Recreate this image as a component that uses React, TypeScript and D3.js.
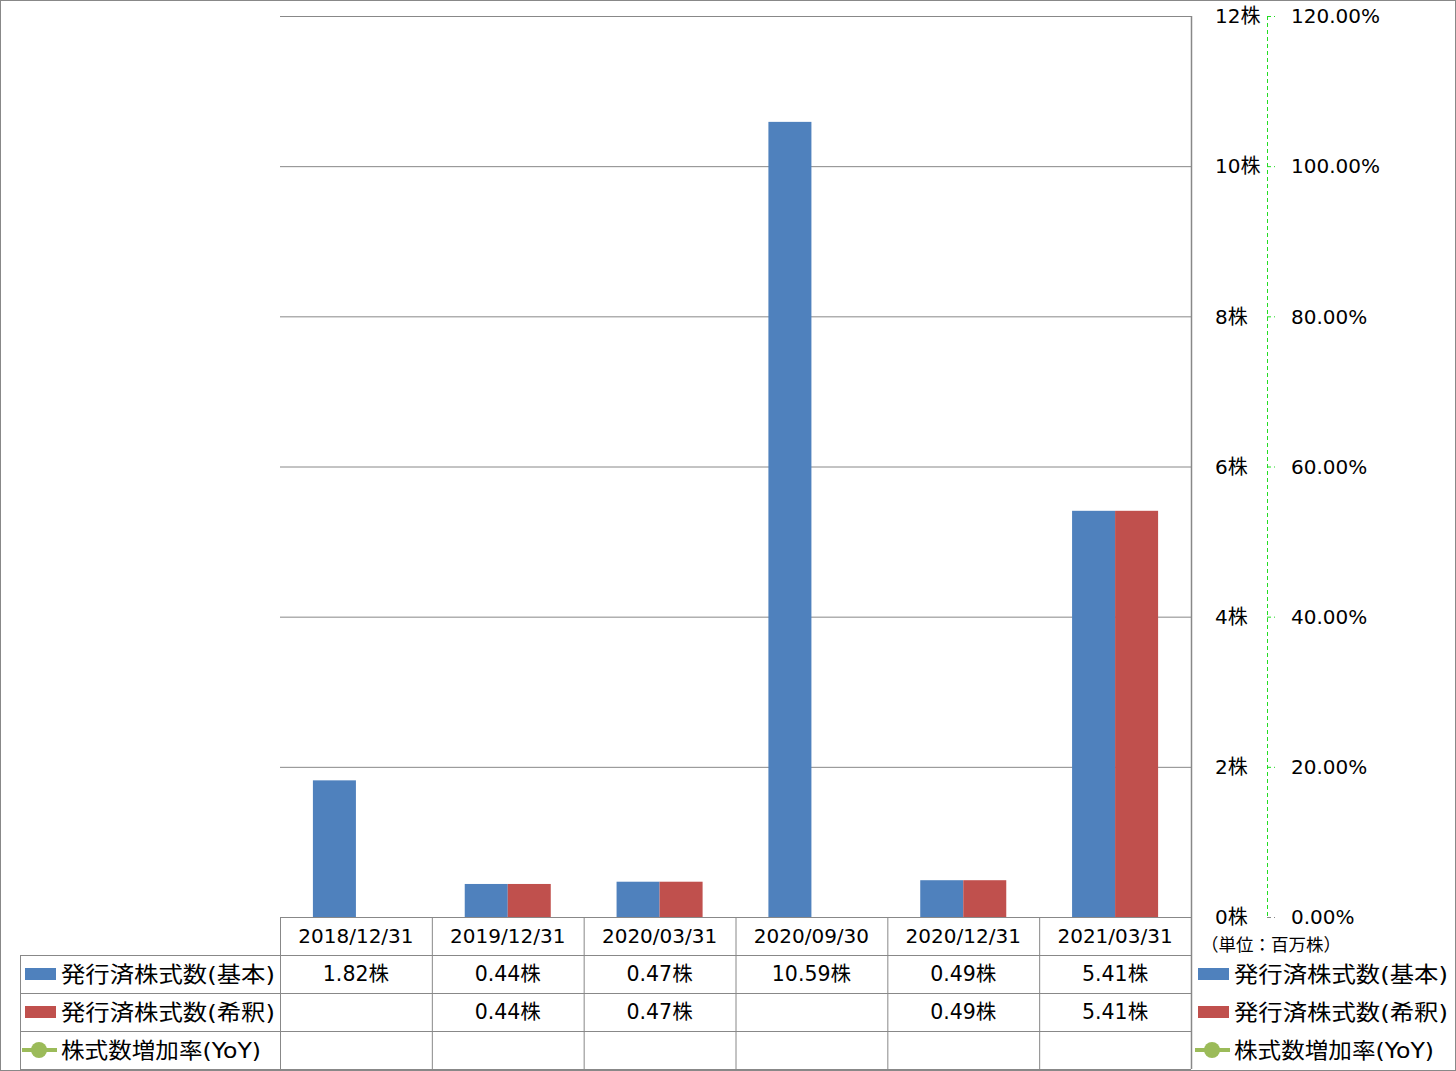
import React from "react";
import * as d3 from "d3";

const categories = ["2018/12/31", "2019/12/31", "2020/03/31", "2020/09/30", "2020/12/31", "2021/03/31"];
const basicShares: (number | null)[] = [1.82, 0.44, 0.47, 10.59, 0.49, 5.41];
const dilutedShares: (number | null)[] = [null, 0.44, 0.47, null, 0.49, 5.41];
const yoyGrowth: (number | null)[] = [null, null, null, null, null, null];
const leftTicks = [0, 2, 4, 6, 8, 10, 12];
const rightTicks = [0, 0.2, 0.4, 0.6, 0.8, 1.0, 1.2];
const seriesNames = ["発行済株式数(基本)", "発行済株式数(希釈)", "株式数増加率(YoY)"];
const unitLabel = "（単位：百万株）";

const BLUE = "#4F81BD";
const RED = "#C0504D";
const GREEN = "#9BBB59";
const GRID = "#888888";
const FONT = "'DejaVu Sans', 'Noto Sans CJK JP', sans-serif";

export default function App() {
  const W = 1456, H = 1071;
  const plotL = 280, plotR = 1191, plotT = 16, plotB = 917;
  const x = d3.scaleBand<string>().domain(categories).range([plotL, plotR]).paddingInner(0).paddingOuter(0);
  const inner = d3.scaleBand<string>().domain(["b", "d"]).range([0, x.bandwidth()]).paddingOuter(0.765).paddingInner(0);
  const y = d3.scaleLinear().domain([0, 12]).range([plotB, plotT]);
  const y2 = d3.scaleLinear().domain([0, 1.2]).range([plotB, plotT]);
  const axisX = 1267;
  const rowH = 38;
  const rowTops = [917, 955, 993, 1031];
  const tableBottom = 1069;
  const fmt = (v: number | null) => (v == null ? "" : `${v.toFixed(2)}株`);
  const rows = [basicShares, dilutedShares, yoyGrowth];
  const colEdges = categories.map((c) => x(c) as number).concat([plotR]);
  const legendLens = [214, 214, 200];

  const swatch = (i: number, sx: number, cy: number) => {
    if (i === 0) return <rect x={sx} y={cy - 6} width={31} height={12} fill={BLUE} />;
    if (i === 1) return <rect x={sx} y={cy - 6} width={31} height={12} fill={RED} />;
    return (
      <g>
        <line x1={sx - 3} x2={sx + 32} y1={cy} y2={cy} stroke={GREEN} strokeWidth={4} />
        <circle cx={sx + 14} cy={cy} r={8} fill={GREEN} />
      </g>
    );
  };

  return (
    <div style={{ position: "absolute", left: 0, top: 0 }}>
      <svg width={W} height={H} style={{ display: "block", fontFamily: FONT }}>
        <rect x={0.5} y={0.5} width={W - 1} height={H - 1} fill="#fff" stroke={GRID} />
        {leftTicks.map((t) => (
          <line key={t} x1={plotL} x2={plotR} y1={y(t) + 0.5} y2={y(t) + 0.5} stroke={GRID} strokeWidth={1} />
        ))}
        {categories.map((c, i) => (
          <g key={c}>
            {basicShares[i] != null && (
              <rect x={(x(c) as number) + (inner("b") as number)} y={y(basicShares[i] as number)} width={inner.bandwidth()} height={plotB - y(basicShares[i] as number)} fill={BLUE} />
            )}
            {dilutedShares[i] != null && (
              <rect x={(x(c) as number) + (inner("d") as number)} y={y(dilutedShares[i] as number)} width={inner.bandwidth()} height={plotB - y(dilutedShares[i] as number)} fill={RED} />
            )}
          </g>
        ))}
        <line x1={plotR + 0.5} x2={plotR + 0.5} y1={plotT} y2={tableBottom} stroke={GRID} strokeWidth={1.5} />
        <line x1={axisX + 0.5} x2={axisX + 0.5} y1={plotT} y2={plotB} stroke="#22dd22" strokeDasharray="4,3" strokeWidth={1} />
        {rightTicks.map((t, i) => (
          <line key={i} x1={axisX} x2={axisX + 8} y1={y2(t) + 0.5} y2={y2(t) + 0.5} stroke={i === 0 ? GRID : "#22dd22"} strokeDasharray="4,3" />
        ))}
        {leftTicks.map((t) => (
          <text key={t} x={1215} y={y(t)} dy="0.36em" fontSize={20} fill="#000">{`${t}株`}</text>
        ))}
        {rightTicks.map((t, i) => (
          <text key={i} x={1291} y={y2(t)} dy="0.36em" fontSize={20} fill="#000">{`${(t * 100).toFixed(2)}%`}</text>
        ))}
        <line x1={plotL} x2={plotR} y1={plotB + 0.5} y2={plotB + 0.5} stroke={GRID} />
        {rowTops.slice(1).map((ry) => (
          <line key={ry} x1={20} x2={plotR} y1={ry + 0.5} y2={ry + 0.5} stroke={GRID} />
        ))}
        <line x1={20} x2={plotR} y1={tableBottom + 0.5} y2={tableBottom + 0.5} stroke={GRID} />
        <line x1={20.5} x2={20.5} y1={rowTops[1]} y2={tableBottom} stroke={GRID} />
        {colEdges.slice(0, -1).map((cx, i) => (
          <line key={i} x1={cx + 0.5} x2={cx + 0.5} y1={plotB} y2={tableBottom} stroke={GRID} />
        ))}
        {categories.map((c) => (
          <text key={c} x={(x(c) as number) + x.bandwidth() / 2} y={rowTops[0] + rowH / 2} dy="0.36em" textAnchor="middle" fontSize={20}>{c}</text>
        ))}
        {rows.map((r, ri) => (
          <g key={ri}>
            {swatch(ri, 25, rowTops[ri + 1] + rowH / 2)}
            <text x={61} y={rowTops[ri + 1] + rowH / 2} dy="0.36em" fontSize={22} textLength={legendLens[ri]} lengthAdjust="spacingAndGlyphs">{seriesNames[ri]}</text>
            {categories.map((c, ci) => (
              <text key={c} x={(x(c) as number) + x.bandwidth() / 2} y={rowTops[ri + 1] + rowH / 2} dy="0.36em" textAnchor="middle" fontSize={20.5}>{fmt(r[ci])}</text>
            ))}
          </g>
        ))}
        <text x={1201} y={945} dy="0.36em" fontSize={17.5}>{unitLabel}</text>
        {seriesNames.map((n, i) => (
          <g key={n}>
            {swatch(i, 1198, rowTops[i + 1] + rowH / 2)}
            <text x={1234} y={rowTops[i + 1] + rowH / 2} dy="0.36em" fontSize={22} textLength={legendLens[i]} lengthAdjust="spacingAndGlyphs">{n}</text>
          </g>
        ))}
      </svg>
    </div>
  );
}
